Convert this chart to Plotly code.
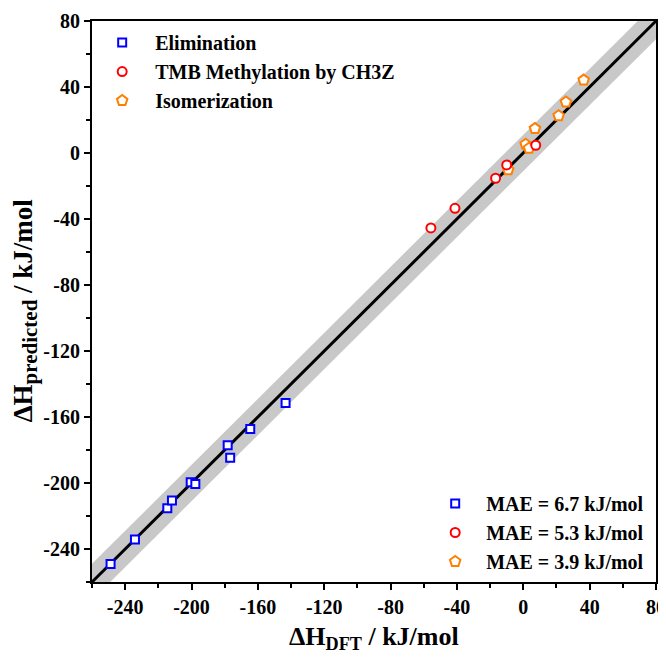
import plotly.graph_objects as go

# ---- data ----
elim_x = [-248.8, -234.1, -214.6, -211.8, -200.5, -197.7, -178.2, -176.7, -164.6, -143.3]
elim_y = [-249.1, -234.2, -215.3, -210.6, -199.6, -200.6, -177.1, -184.7, -167.2, -151.5]
meth_x = [-55.7, -41.2, -16.7, -10.0, 7.5]
meth_y = [-45.4, -33.5, -15.3, -7.2, 4.7]
iso_x = [-9.1, 1.4, 3.4, 7.0, 21.3, 25.7, 36.4]
iso_y = [-10.2, 5.3, 2.9, 14.8, 22.6, 30.9, 44.2]
series_names = ["Elimination", "TMB Methylation by CH3Z", "Isomerization"]
mae_labels = ["MAE = 6.7 kJ/mol", "MAE = 5.3 kJ/mol", "MAE = 3.9 kJ/mol"]
axis_range = [-260, 80]
band_halfwidth = 11
tick_vals = [-240, -200, -160, -120, -80, -40, 0, 40, 80]
tick_text = ["-240", "-200", "-160", "-120", "-80", "-40", "0", "40", "80"]
x_title = "ΔH<sub>DFT</sub> / kJ/mol"
y_title = "ΔH<sub><span style='font-size:21px'>predicted</span></sub> / kJ/mol"

FONT = "Liberation Serif"
BLUE, RED, ORANGE = "#0000FF", "#FF0000", "#FF7F00"

fig = go.Figure()

lo, hi = axis_range
fig.add_trace(go.Scatter(
    x=[lo, hi, hi, lo, lo],
    y=[lo + band_halfwidth, hi + band_halfwidth, hi - band_halfwidth, lo - band_halfwidth, lo + band_halfwidth],
    fill="toself", fillcolor="#C8C8C8", line=dict(width=0), mode="lines",
    showlegend=False, hoverinfo="skip"))
fig.add_trace(go.Scatter(x=axis_range, y=axis_range, mode="lines",
                         line=dict(color="black", width=3), showlegend=False))

LW = 2
fig.add_trace(go.Scatter(x=elim_x, y=elim_y, mode="markers", name=series_names[0],
                         marker=dict(symbol="square", size=8, color="white",
                                     line=dict(color=BLUE, width=LW)),
                         legend="legend", legendrank=1))
fig.add_trace(go.Scatter(x=iso_x, y=iso_y, mode="markers", name=series_names[2],
                         marker=dict(symbol="pentagon", size=11, color="white",
                                     line=dict(color=ORANGE, width=LW)),
                         legend="legend", legendrank=3))
fig.add_trace(go.Scatter(x=meth_x, y=meth_y, mode="markers", name=series_names[1],
                         marker=dict(symbol="circle", size=9, color="white",
                                     line=dict(color=RED, width=LW)),
                         legend="legend", legendrank=2))

# second legend (MAE)
for lab, sym, col, sz, rk in [(mae_labels[0], "square", BLUE, 8, 1),
                              (mae_labels[1], "circle", RED, 9, 2),
                              (mae_labels[2], "pentagon", ORANGE, 11, 3)]:
    fig.add_trace(go.Scatter(x=[None], y=[None], mode="markers", name=lab,
                             marker=dict(symbol=sym, size=sz, color="white",
                                         line=dict(color=col, width=LW)),
                             legend="legend2", legendrank=rk))

axis_common = dict(range=axis_range, tickvals=tick_vals, ticktext=tick_text,
                   ticks="outside", ticklen=6, automargin=False,
                   tickwidth=2, tickcolor="black", showline=True, linewidth=2,
                   linecolor="black", mirror=True, showgrid=False, zeroline=False,
                   tickfont=dict(family=FONT, size=20, color="black", weight="bold"),
                   minor=dict(dtick=20, ticks="outside", ticklen=4, tickwidth=2,
                              tickcolor="black", showgrid=False))

title_font = dict(family=FONT, size=26, color="black", weight="bold")
ytitle_font = dict(family=FONT, size=27, color="black", weight="bold")
legend_font = dict(family=FONT, size=20, color="black", weight="bold")

# page body has an 8px default margin; figure is sized/offset to compensate
fig.update_layout(
    width=658, height=651,
    margin=dict(l=84, r=10, t=13, b=77, autoexpand=False),
    plot_bgcolor="white", paper_bgcolor="white",
    xaxis=dict(**axis_common),
    yaxis=dict(**axis_common),
    legend=dict(x=-0.005, y=0.9964, xanchor="left", yanchor="top", bgcolor="rgba(0,0,0,0)",
                font=legend_font, itemsizing="trace", itemwidth=56, tracegroupgap=0),
    legend2=dict(x=0.589, y=0.1747, xanchor="left", yanchor="top", bgcolor="rgba(0,0,0,0)",
                 font=legend_font, itemsizing="trace", itemwidth=52, tracegroupgap=0),
    showlegend=True,
    annotations=[
        dict(text=x_title, xref="paper", yref="paper", x=0.5, y=-0.1,
             xanchor="center", yanchor="middle", showarrow=False, font=title_font),
        dict(text=y_title, xref="paper", yref="paper", x=-0.118, y=0.485, textangle=-90,
             xanchor="center", yanchor="middle", showarrow=False, font=ytitle_font),
    ],
)

fig.write_html("out.html")
